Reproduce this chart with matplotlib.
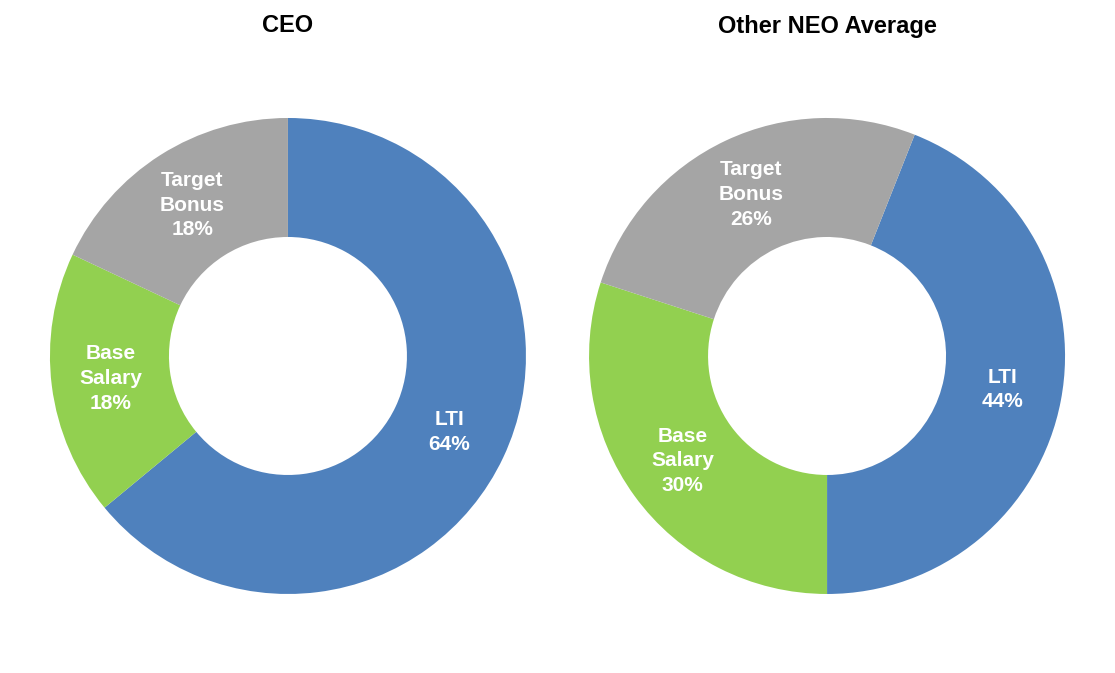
import matplotlib.pyplot as plt

plt.rcParams['font.family'] = ['Liberation Sans', 'DejaVu Sans']

# --- Data ---
categories = ['LTI', 'Base\nSalary', 'Target\nBonus']
ceo_values = [64, 18, 18]
neo_values = [44, 30, 26]
colors = ['#4F81BD', '#92D050', '#A5A5A5']

# where each ring begins (degrees, counter-clockwise from 3 o'clock)
ceo_start = 90
# NEO ring: LTI ends at 6 o'clock
neo_start = 90 - (180 - 360 * neo_values[0] / 100)

fig = plt.figure(figsize=(11.15, 6.73), dpi=100)


def donut(rect, values, start, title, title_y):
    ax = fig.add_axes(rect)
    labels = [f'{c}\n{v}%' for c, v in zip(categories, values)]
    wedges, texts = ax.pie(values, colors=colors, startangle=start, counterclock=False,
                           labels=labels, labeldistance=0.75,
                           wedgeprops=dict(width=0.5, linewidth=0))
    for t in texts:
        t.set_ha('center')
        t.set_va('center')
        t.set_color('white')
        t.set_fontweight('bold')
        t.set_fontsize(15)
        t.set_linespacing(1.38)
    ax.set_xlim(-1, 1)
    ax.set_ylim(-1, 1)
    ax.set_aspect('equal')
    fig.text(rect[0] + rect[2] / 2, title_y, title, ha='center', va='center',
             fontsize=17, fontweight='bold')
    return ax


donut([0.0448, 0.1174, 0.4269, 0.7073], ceo_values, ceo_start, 'CEO', 1 - 25 / 673)
donut([0.5283, 0.1174, 0.4269, 0.7073], neo_values, neo_start, 'Other NEO Average', 1 - 27 / 673)

fig.savefig('out.png', dpi=100)
